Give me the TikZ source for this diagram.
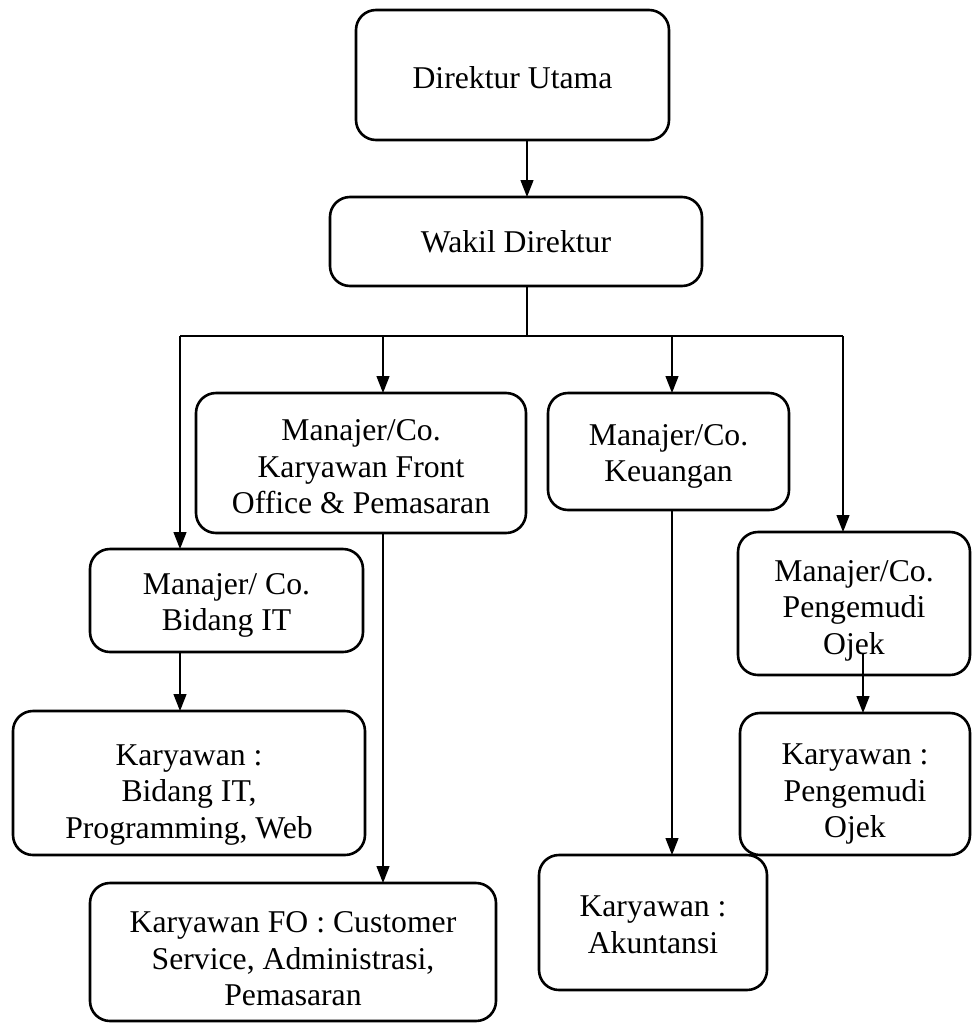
\documentclass[tikz,border=0pt]{standalone}
\usepackage{fontspec}
\setmainfont{Liberation Serif}
\usetikzlibrary{arrows.meta}
\begin{document}
\begin{tikzpicture}[x=1pt,y=-1pt,
  box/.style={draw, line width=2.6pt, rounded corners=20pt,
    inner sep=0pt, outer sep=0pt},
  txt/.style={align=center, inner sep=0pt, font=\fontsize{31.7pt}{36.6pt}\selectfont},
  conn/.style={line width=1.3pt},
  arr/.style={conn, -{Triangle[length=17pt,width=13pt]}}]
\useasboundingbox (0,0) rectangle (972,1023);
% boxes
\node[box, minimum width=313pt, minimum height=130pt] (du) at (512.5,75) {};
\node[box, minimum width=372pt, minimum height=89pt] (wd) at (516,241.5) {};
\node[box, minimum width=330pt, minimum height=140pt] (fo) at (361,463) {};
\node[box, minimum width=241pt, minimum height=117pt] (keu) at (668.5,451.5) {};
\node[box, minimum width=273pt, minimum height=103pt] (it) at (226.5,600.5) {};
\node[box, minimum width=232pt, minimum height=143pt] (oj) at (854,603.5) {};
\node[box, minimum width=352pt, minimum height=144pt] (kit) at (189,783) {};
\node[box, minimum width=230pt, minimum height=142pt] (koj) at (855,784) {};
\node[box, minimum width=406pt, minimum height=138pt] (kfo) at (293,952) {};
\node[box, minimum width=228pt, minimum height=135pt] (ak) at (653,922.5) {};
% texts
\node[txt] (duT) at ([yshift=-3pt]du.center) {Direktur Utama};
\node[txt] (wdT) at (wd.center) {Wakil Direktur};
\node[txt] (foT) at ([yshift=-4pt]fo.center) {Manajer/Co.\\Karyawan Front\\Office \& Pemasaran};
\node[txt] (keuT) at ([yshift=-5pt]keu.center) {Manajer/Co.\\Keuangan};
\node[txt] (itT) at ([yshift=-5pt]it.center) {Manajer/ Co.\\Bidang IT};
\node[txt] (ojT) at ([yshift=-7pt]oj.center) {Manajer/Co.\\Pengemudi\\Ojek};
\node[txt] (kitT) at ([yshift=-12pt]kit.center) {Karyawan :\\Bidang IT,\\Programming, Web};
\node[txt] (kojT) at ([yshift=-10pt]koj.center) {Karyawan :\\Pengemudi\\Ojek};
\node[txt] (kfoT) at ([yshift=-7pt]kfo.center) {Karyawan FO : Customer\\Service, Administrasi,\\Pemasaran};
\node[txt] (akT) at ([yshift=-2pt]ak.center) {Karyawan :\\Akuntansi};
% connector coordinates
\coordinate (bm) at (527,336);
\coordinate (bl) at (180,336);
\coordinate (br) at (843,336);
\coordinate (bf) at (383,336);
\coordinate (bk) at (672,336);
\coordinate (oa) at (863,653);
% connectors
\draw[arr] (du.south -| bm) -- (wd.north -| bm);
\draw[conn] (wd.south -| bm) -- (bm);
\draw[conn] (bl) -- (br);
\draw[arr] (bl) -- (bl |- it.north);
\draw[arr] (bf) -- (bf |- fo.north);
\draw[arr] (bk) -- (bk |- keu.north);
\draw[arr] (br) -- (br |- oj.north);
\draw[arr] (it.south -| bl) -- (kit.north -| bl);
\draw[arr] (fo.south -| bf) -- (kfo.north -| bf);
\draw[arr] (keu.south -| bk) -- (ak.north -| bk);
\draw[arr] (oa) -- (oa |- koj.north);
\end{tikzpicture}
\end{document}
